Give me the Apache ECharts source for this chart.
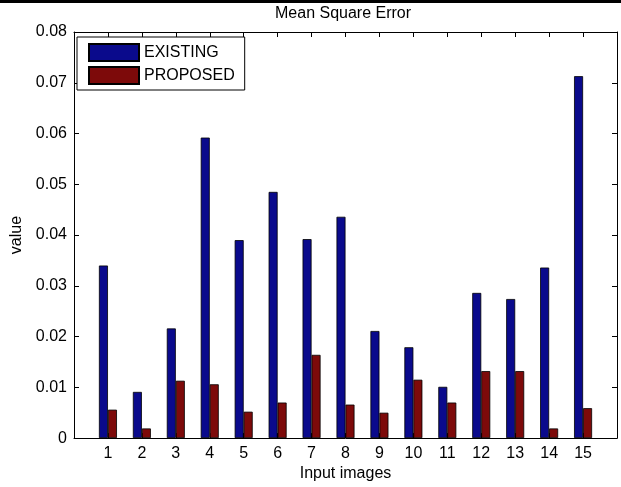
<!DOCTYPE html>
<html>
<head>
<meta charset="utf-8">
<script src="https://cdn.jsdelivr.net/npm/echarts@6/dist/echarts.min.js"></script>
<style>
html,body{margin:0;padding:0;background:#fff;}
#main{width:621px;height:487px;}
</style>
</head>
<body>
<div id="main"></div>
<script>
const categories = ['1','2','3','4','5','6','7','8','9','10','11','12','13','14','15'];
const existing = [0.0340, 0.0091, 0.0216, 0.0592, 0.0390, 0.0485, 0.0392, 0.0436, 0.0211, 0.0179, 0.0101, 0.0286, 0.0274, 0.0336, 0.0713];
const proposed = [0.0056, 0.0019, 0.0113, 0.0106, 0.0052, 0.0070, 0.0164, 0.0066, 0.0050, 0.0115, 0.0070, 0.0132, 0.0132, 0.0019, 0.0059];
const seriesNames = ['EXISTING', 'PROPOSED'];

const FONT = 'Liberation Sans, Arial, sans-serif';
const chart = echarts.init(document.getElementById('main'), null, {renderer: 'canvas'});

const toPairs = arr => arr.map((v, i) => [i + 1, v]);
const xLabel = v => categories[v - 1] !== undefined ? categories[v - 1] : '';

const axisLineStyle = {color: '#000', width: 1};

chart.setOption({
  backgroundColor: '#fff',
  animation: false,
  title: {
    text: 'Mean Square Error',
    left: 275,
    top: 6,
    padding: 0,
    textStyle: {fontFamily: FONT, fontSize: 16, fontWeight: 'normal', color: '#000'}
  },
  graphic: [{
    type: 'rect',
    left: 0, top: 0,
    shape: {width: 621, height: 3},
    style: {fill: '#000'}
  }],
  legend: {
    data: seriesNames,
    left: 77,
    top: 37,
    orient: 'vertical',
    icon: 'rect',
    itemWidth: 50,
    itemHeight: 17,
    itemGap: 4,
    padding: [6, 10, 5, 11],
    borderColor: '#000',
    borderWidth: 1,
    backgroundColor: '#fff',
    textStyle: {fontFamily: FONT, fontSize: 16, color: '#000', padding: [0, 0, 0, 0]},
    selectedMode: false
  },
  grid: {left: 74, right: 4, top: 32, bottom: 45, containLabel: false},
  xAxis: [{
    type: 'value',
    min: 0, max: 16, interval: 1,
    name: 'Input images',
    nameLocation: 'middle',
    nameGap: 26,
    nameTextStyle: {fontFamily: FONT, fontSize: 16, color: '#000'},
    axisLine: {show: true, onZero: false, lineStyle: axisLineStyle},
    axisTick: {show: true, inside: true, length: 5, lineStyle: axisLineStyle},
    axisLabel: {formatter: xLabel, margin: 7, fontFamily: FONT, fontSize: 16, color: '#000', showMinLabel: true, showMaxLabel: true},
    splitLine: {show: false}
  }, {
    type: 'value',
    position: 'top',
    min: 0, max: 16, interval: 1,
    axisLine: {show: true, onZero: false, lineStyle: axisLineStyle},
    axisTick: {show: true, inside: true, length: 5, lineStyle: axisLineStyle},
    axisLabel: {show: false},
    splitLine: {show: false}
  }],
  yAxis: [{
    type: 'value',
    min: 0, max: 0.08, interval: 0.01,
    name: 'value',
    nameLocation: 'middle',
    nameGap: 48,
    nameTextStyle: {fontFamily: FONT, fontSize: 16, color: '#000'},
    axisLine: {show: true, onZero: false, lineStyle: axisLineStyle},
    axisTick: {show: true, inside: true, length: 5, lineStyle: axisLineStyle},
    axisLabel: {margin: 7, fontFamily: FONT, fontSize: 16, color: '#000'},
    splitLine: {show: false}
  }, {
    type: 'value',
    position: 'right',
    min: 0, max: 0.08, interval: 0.01,
    axisLine: {show: true, onZero: false, lineStyle: axisLineStyle},
    axisTick: {show: true, inside: true, length: 5, lineStyle: axisLineStyle},
    axisLabel: {show: false},
    splitLine: {show: false}
  }],
  series: [{
    name: seriesNames[0],
    type: 'bar',
    xAxisIndex: 0, yAxisIndex: 0,
    data: toPairs(existing),
    barWidth: 9,
    barGap: '0%',
    itemStyle: {color: '#0a0a8c', borderColor: '#000', borderWidth: 0.8}
  }, {
    name: seriesNames[1],
    type: 'bar',
    xAxisIndex: 0, yAxisIndex: 0,
    data: toPairs(proposed),
    barWidth: 9,
    barGap: '0%',
    itemStyle: {color: '#7d0a0a', borderColor: '#000', borderWidth: 0.8}
  }]
});
</script>
</body>
</html>
